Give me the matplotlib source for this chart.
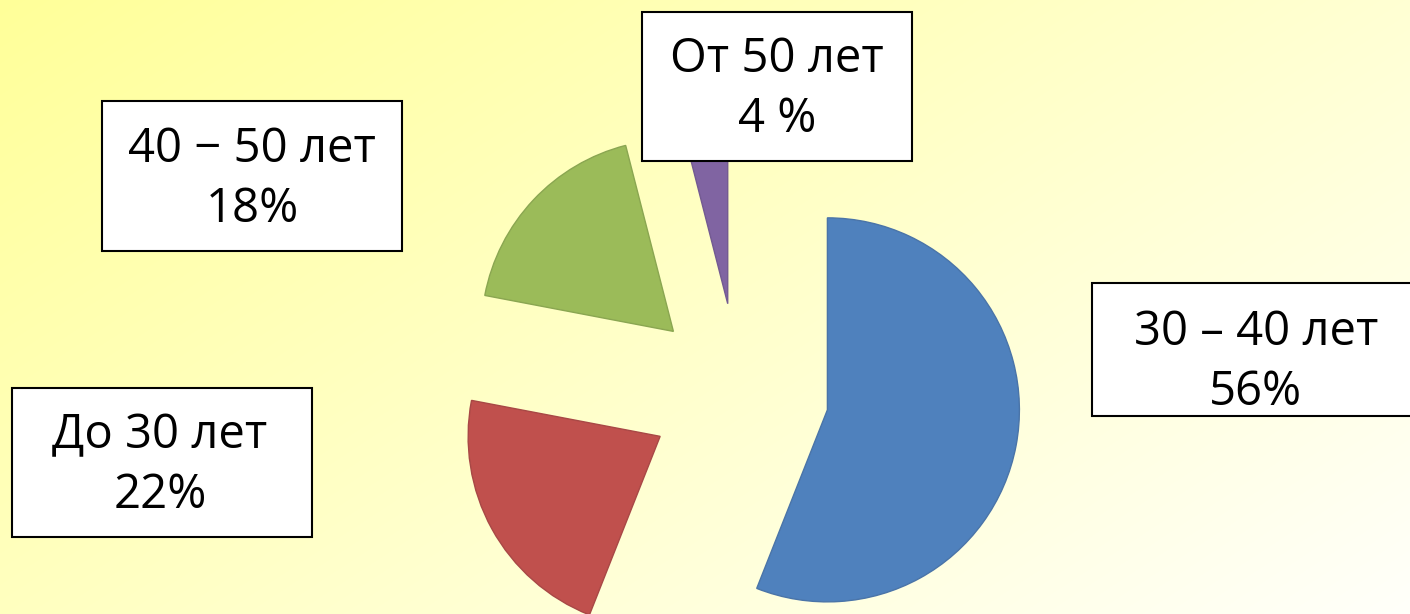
import numpy as np
import matplotlib.pyplot as plt
from matplotlib.patches import Rectangle

# возрастные группы и доли (%)
groups = ['30 – 40 лет', 'До 30 лет', '40 − 50 лет', 'От 50 лет']
shares = [56, 22, 18, 4]
share_labels = ['56%', '22%', '18%', '4 %']
colors = ['#4F81BD', '#C0504D', '#9BBB59', '#8064A2']
edges = ['#4A74A8', '#A84846', '#8AA651', '#735A92']

# размещение подписей (пиксели, y сверху вниз)
box_x = [1092, 12, 102, 642]
box_y = [283, 388, 101, 12]
box_w = [330, 300, 300, 270]
box_h = [133, 149, 150, 149]
text_x = [1256, 160, 252, 777]
base_y = [345, 448, 162, 72]
line_gap = 60

W, H = 1410, 614
fig = plt.figure(figsize=(W / 100, H / 100), dpi=100)
ax = fig.add_axes([0, 0, 1, 1])

# фон: жёлтый градиент к белому
xx, yy = np.meshgrid(np.linspace(0, 1, W), np.linspace(0, 1, H))
t = np.clip(0.6 * xx + 0.4 * yy, 0, 1)
bg = np.dstack([np.ones_like(t), np.ones_like(t), (153 + 97 * t) / 255])
ax.imshow(bg, extent=[0, W, 0, H], origin='upper', zorder=0)

wedges, _ = ax.pie(shares, colors=colors, startangle=90, counterclock=False,
                   explode=[90] * 4, center=(739, H - 393), radius=192,
                   wedgeprops=dict(linewidth=1, zorder=2))
for w, ec in zip(wedges, edges):
    w.set_edgecolor(ec)

font = dict(family=['Open Sans', 'DejaVu Sans'], size=34, color='black')
for i in range(len(groups)):
    ax.add_patch(Rectangle((box_x[i], H - box_y[i] - box_h[i]), box_w[i], box_h[i],
                           facecolor='white', edgecolor='black', linewidth=1.5, zorder=3))
    ax.text(text_x[i], H - base_y[i], groups[i], ha='center', va='baseline', zorder=4, **font)
    ax.text(text_x[i], H - base_y[i] - line_gap, share_labels[i], ha='center', va='baseline',
            zorder=4, **font)

ax.set_xlim(0, W)
ax.set_ylim(0, H)
ax.axis('off')

fig.savefig('out.png', dpi=100)
